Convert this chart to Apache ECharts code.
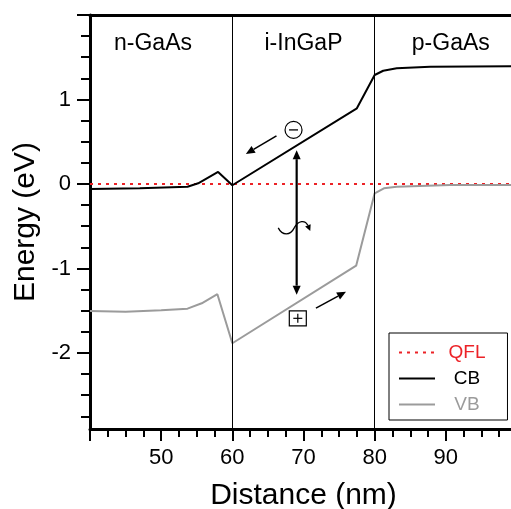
<!DOCTYPE html>
<html>
<head>
<meta charset="utf-8">
<script src="https://cdn.jsdelivr.net/npm/echarts@6/dist/echarts.min.js"></script>
<style>
  html, body { margin: 0; padding: 0; background: #fff; }
  #main { width: 511px; height: 509px; }
</style>
</head>
<body>
<div id="main"></div>
<script>
// Band diagram of an n-GaAs / i-InGaP / p-GaAs structure

// Conduction band edge (nm, eV)
const distCB   = [40, 47, 53.7, 55.2, 58, 60, 77.5, 80, 81.2, 83.1, 87.8, 100];
const energyCB = [-0.059, -0.05, -0.032, 0.008, 0.142, -0.015, 0.896, 1.29, 1.34, 1.37, 1.388, 1.395];

// Valence band edge (nm, eV)
const distVB   = [40, 45, 50, 53.7, 55.7, 57.9, 60, 77.4, 80, 81.3, 83.1, 90.6, 100];
const energyVB = [-1.503, -1.511, -1.495, -1.476, -1.412, -1.305, -1.885, -0.967, -0.11, -0.051, -0.032, -0.012, -0.012];

// Quasi Fermi level
const distQFL   = [40, 100];
const energyQFL = [0, 0];

// Layer interfaces and layer names
const interfaces   = [60, 80];
const regionNames  = ['n-GaAs', 'i-InGaP', 'p-GaAs'];
const regionLabelX = [48.85, 70.0, 90.7];
const regionLabelY = 1.66;

// Axis ticks
const xTickLabels = [50, 60, 70, 80, 90];
const yTickLabels = [-2, -1, 0, 1];
const yMajorTicks = [-2, -1, 0, 1, 2];
const yMinorTicks = [-2.75, -2.5, -2.25, -1.75, -1.5, -1.25, -0.75, -0.5, -0.25,
                     0.25, 0.5, 0.75, 1.25, 1.5, 1.75];

const FONT = "'Liberation Sans', Arial, Helvetica, sans-serif";
const RED = '#ec2227';
const GRAY = '#9b9b9b';
const BLACK = '#000';

const pairs = (xs, ys) => xs.map((x, i) => [x, ys[i]]);

const chart = echarts.init(document.getElementById('main'), null, { renderer: 'canvas' });

const option = {
  animation: false,
  backgroundColor: '#fff',
  grid: { left: 90, right: -6, top: 15, bottom: 80, containLabel: false, outerBoundsMode: 'none' },
  xAxis: [{
    type: 'value', min: 40, max: 100, interval: 10,
    name: 'Distance (nm)', nameLocation: 'middle', nameGap: 52,
    nameTextStyle: { fontFamily: FONT, fontSize: 30, color: BLACK },
    axisLine: { show: true, onZero: false, lineStyle: { color: BLACK, width: 3 } },
    axisTick: { show: true, inside: false, length: 12, lineStyle: { color: BLACK, width: 2 } },
    minorTick: { show: true, splitNumber: 4, length: 8, lineStyle: { color: BLACK, width: 2 } },
    axisLabel: {
      fontFamily: FONT, fontSize: 22, color: BLACK, margin: 18,
      formatter: v => (xTickLabels.indexOf(v) >= 0 ? String(v) : '')
    },
    splitLine: { show: false }, minorSplitLine: { show: false }
  }, {
    type: 'value', position: 'top', min: 40, max: 100,
    axisLine: { show: true, onZero: false, lineStyle: { color: BLACK, width: 3 } },
    axisTick: { show: false }, axisLabel: { show: false }, splitLine: { show: false }
  }],
  yAxis: [{
    type: 'value', min: -2.9, max: 2, position: 'left',
    name: 'Energy (eV)', nameLocation: 'middle', nameGap: 45,
    nameTextStyle: { fontFamily: FONT, fontSize: 30, color: BLACK },
    axisLine: { show: true, onZero: false, lineStyle: { color: BLACK, width: 3 } },
    axisTick: { show: true, length: 13, customValues: yMajorTicks, lineStyle: { color: BLACK, width: 2 } },
    axisLabel: { customValues: yTickLabels, fontFamily: FONT, fontSize: 22, color: BLACK, margin: 19 },
    splitLine: { show: false }
  }, {
    type: 'value', min: -2.9, max: 2, position: 'left',
    axisLine: { show: false },
    axisTick: { show: true, length: 9, customValues: yMinorTicks, lineStyle: { color: BLACK, width: 2 } },
    axisLabel: { show: false }, splitLine: { show: false }
  }],
  legend: {
    left: 389, top: 333, orient: 'vertical', selectedMode: false,
    data: [
      { name: 'QFL', textStyle: { color: RED } },
      { name: 'CB', textStyle: { color: BLACK } },
      { name: 'VB', textStyle: { color: GRAY } }
    ],
    itemWidth: 36, itemHeight: 14, itemGap: 7,
    padding: [10, 22, 6, 9],
    borderColor: BLACK, borderWidth: 1, borderRadius: 0,
    itemStyle: { opacity: 0 },
    formatter: '{c|{name}}',
    textStyle: {
      fontFamily: FONT, fontSize: 19,
      rich: { c: { width: 54, align: 'center', fontFamily: FONT, fontSize: 19 } }
    }
  },
  series: [{
    name: 'QFL', type: 'line', data: pairs(distQFL, energyQFL), symbol: 'none',
    lineStyle: { color: RED, width: 2, type: [3, 5] }, itemStyle: { color: RED }, z: 3,
    markLine: {
      silent: true, symbol: 'none', label: { show: false },
      lineStyle: { color: BLACK, width: 1, type: 'solid' },
      emphasis: { disabled: true },
      data: interfaces.map(x => ({ xAxis: x }))
    }
  }, {
    name: 'CB', type: 'line', data: pairs(distCB, energyCB), symbol: 'none',
    lineStyle: { color: BLACK, width: 2 }, itemStyle: { color: BLACK }, z: 4
  }, {
    name: 'VB', type: 'line', data: pairs(distVB, energyVB), symbol: 'none',
    lineStyle: { color: GRAY, width: 2 }, itemStyle: { color: GRAY }, z: 4
  }]
};

chart.setOption(option);

// Annotations: carriers, transitions and drift directions (in data units)
const electronPos   = [68.6, 0.64];
const electronArrow = [[66.2, 0.57], [61.9, 0.355]];
const excitation    = [[69.04, 0.40], [69.04, -1.31]];
const photonPos     = [68.7, -0.52];
const holePos       = [69.2, -1.59];
const holeArrow     = [[71.75, -1.47], [75.97, -1.275]];

const toPx = p => chart.convertToPixel({ xAxisIndex: 0, yAxisIndex: 0 }, p);

function head(tip, dir, len, halfW) {
  const l = Math.hypot(dir[0], dir[1]);
  const ux = dir[0] / l, uy = dir[1] / l;
  const bx = tip[0] - ux * len, by = tip[1] - uy * len;
  return {
    base: [bx, by],
    el: {
      type: 'polygon', z: 100,
      shape: { points: [tip, [bx - uy * halfW, by + ux * halfW], [bx + uy * halfW, by - ux * halfW]] },
      style: { fill: BLACK }
    }
  };
}

function arrow(a, b, width, len, halfW, both) {
  const hb = head(b, [b[0] - a[0], b[1] - a[1]], len, halfW);
  const els = [hb.el];
  let start = a;
  if (both) {
    const ha = head(a, [a[0] - b[0], a[1] - b[1]], len, halfW);
    els.push(ha.el);
    start = ha.base;
  }
  els.push({
    type: 'line', z: 100,
    shape: { x1: start[0], y1: start[1], x2: hb.base[0], y2: hb.base[1] },
    style: { stroke: BLACK, lineWidth: width }
  });
  return els;
}

const elements = [];

regionNames.forEach((name, i) => {
  const p = toPx([regionLabelX[i], regionLabelY]);
  elements.push({
    type: 'text', x: p[0], y: p[1], z: 100,
    style: {
      text: name, fontFamily: FONT, fontSize: 23, fill: BLACK,
      align: 'center', verticalAlign: 'middle', textAlign: 'center', textVerticalAlign: 'middle'
    }
  });
});

// electron
const e = toPx(electronPos);
elements.push({ type: 'circle', z: 100, shape: { cx: e[0], cy: e[1], r: 8.5 },
  style: { fill: '#fff', stroke: BLACK, lineWidth: 1.2 } });
elements.push({ type: 'line', z: 101, shape: { x1: e[0] - 4.5, y1: e[1], x2: e[0] + 4.5, y2: e[1] },
  style: { stroke: BLACK, lineWidth: 1.3 } });
elements.push(...arrow(toPx(electronArrow[0]), toPx(electronArrow[1]), 1.6, 9, 4, false));

// excitation across the gap
elements.push(...arrow(toPx(excitation[0]), toPx(excitation[1]), 2.2, 9, 4, true));

// photon
const w = toPx(photonPos);
elements.push({ type: 'bezierCurve', z: 100,
  shape: { x1: w[0] - 16, y1: w[1], cpx1: w[0] - 12, cpy1: w[1] + 8, cpx2: w[0] - 4, cpy2: w[1] + 8, x2: w[0], y2: w[1] },
  style: { stroke: BLACK, lineWidth: 1.3, fill: null } });
const wh = head([w[0] + 16, w[1] + 3], [3, 7], 6, 3);
elements.push({ type: 'bezierCurve', z: 100,
  shape: { x1: w[0], y1: w[1], cpx1: w[0] + 4, cpy1: w[1] - 8, cpx2: w[0] + 11, cpy2: w[1] - 8, x2: wh.base[0], y2: wh.base[1] },
  style: { stroke: BLACK, lineWidth: 1.3, fill: null } });
elements.push(wh.el);

// hole
const h = toPx(holePos);
elements.push({ type: 'rect', z: 100, shape: { x: h[0] - 8.5, y: h[1] - 7.5, width: 17, height: 15 },
  style: { fill: '#fff', stroke: BLACK, lineWidth: 1.2 } });
elements.push({ type: 'line', z: 101, shape: { x1: h[0] - 4.5, y1: h[1], x2: h[0] + 4.5, y2: h[1] },
  style: { stroke: BLACK, lineWidth: 1.2 } });
elements.push({ type: 'line', z: 101, shape: { x1: h[0], y1: h[1] - 4.5, x2: h[0], y2: h[1] + 4.5 },
  style: { stroke: BLACK, lineWidth: 1.2 } });
elements.push(...arrow(toPx(holeArrow[0]), toPx(holeArrow[1]), 1.5, 9, 4, false));

chart.setOption({ graphic: { elements: elements } });
</script>
</body>
</html>
